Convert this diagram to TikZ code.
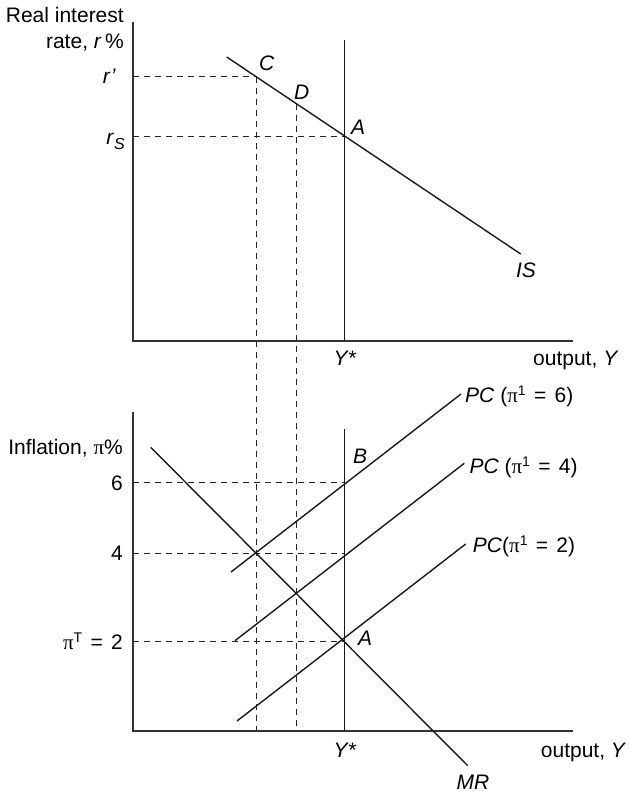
\documentclass[tikz,border=0pt]{standalone}
\usepackage{fontspec}
\setmainfont{Liberation Sans}
\newfontfamily\serifpi{Liberation Serif}
\usetikzlibrary{calc}
\newcommand\piup{{\serifpi π}}
\newcommand\supr[1]{\raisebox{7pt}{\fontsize{14}{14}\selectfont #1}}
\newcommand\eqs{\hspace{2.5pt} = \hspace{2.5pt}}
\begin{document}
\begin{tikzpicture}[x=1pt,y=-1pt,
  font=\fontsize{21}{26}\selectfont,
  axis/.style={line width=1.8pt, black!80},
  curve/.style={line width=1.4pt, black!90},
  guide/.style={line width=1.3pt, dash pattern=on 6pt off 5pt, black!85},
  lbl/.style={inner sep=0pt, text height=15pt, text depth=0pt}]
\useasboundingbox (0,0) rectangle (629,792);

% ---------- top panel ----------
\coordinate (T1) at (133,22);
\coordinate (O1) at (133,341);
\coordinate (E1) at (573,341);
\coordinate (V1t) at (344.5,40);
\coordinate (V1b) at (344.5,341);
\coordinate (IS1) at (226.7,57);
\coordinate (IS2) at (520.7,254);
\coordinate (C) at (256.5,76.5);
\coordinate (D) at (296.5,103.5);
\coordinate (A1) at (344.5,136.5);

% ---------- bottom panel ----------
\coordinate (T2) at (133,412);
\coordinate (O2) at (133,731);
\coordinate (E2) at (573,731);
\coordinate (V2t) at (344.5,429);
\coordinate (V2b) at (344.5,731);
\coordinate (MR1) at (150.7,447.3);
\coordinate (MR2) at (467.7,765.7);
\coordinate (P6a) at (231,572);
\coordinate (P6b) at (461,394);
\coordinate (P4a) at (235,640.7);
\coordinate (P4b) at (464.3,463.3);
\coordinate (P2a) at (237,721);
\coordinate (P2b) at (465.7,544);
\coordinate (B) at (344.5,482.5);
\coordinate (F4) at (344.5,553.5);
\coordinate (A2) at (344.5,641.5);

% guides
\draw[guide] (O1 |- C) -- (C);
\draw[guide] (C) -- (C |- O2);
\draw[guide] (D) -- (D |- O2);
\draw[guide] (O1 |- A1) -- (A1);
\draw[guide] (O2 |- B) -- (B);
\draw[guide] (O2 |- F4) -- (F4);
\draw[guide] (O2 |- A2) -- (A2);

% axes
\draw[axis] (T1) -- (O1) -- (E1);
\draw[axis] (T2) -- (O2) -- (E2);

% curves
\draw[curve] (V1t) -- (V1b);
\draw[curve] (IS1) -- (IS2);
\draw[curve] (V2t) -- (V2b);
\draw[curve] (MR1) -- (MR2);
\draw[curve] (P6a) -- (P6b);
\draw[curve] (P4a) -- (P4b);
\draw[curve] (P2a) -- (P2b);

% labels top
\node[inner sep=0pt, align=right, anchor=east] (ylab1) at (124,29) {Real interest\\rate, \textit{r}\,\%};
\node[lbl, anchor=east] (rp) at (116,76) {\textit{r\kern1pt'}};
\node[lbl, anchor=east] (rs) at (125,137) {\textit{r}\raisebox{-5pt}{\fontsize{16}{16}\selectfont\itshape S}};
\node[lbl] (Clab) at (266.7,63.3) {\textit{C}};
\node[lbl] (Dlab) at (301.7,91.7) {\textit{D}};
\node[lbl] (A1lab) at (358,127) {\textit{A}};
\node[lbl] (ISlab) at (526,270) {\textit{IS}};
\node[lbl] (Ys1) at (345,358) {\textit{Y*}};
\node[lbl, anchor=west] (out1) at (533,358) {output, \textit{Y}};

% labels bottom
\node[lbl, anchor=east] (ylab2) at (123,447) {Inflation, \piup\%};
\node[lbl, anchor=east] (six) at (123,482.7) {6};
\node[lbl, anchor=east] (four) at (123,553.3) {4};
\node[lbl, anchor=east] (two) at (123,641.7) {\piup\supr{T}\eqs 2};
\node[lbl] (Blab) at (360,456) {\textit{B}};
\node[lbl] (A2lab) at (365,638) {\textit{A}};
\node[lbl, anchor=west] (pc6) at (465,395) {\textit{PC} (\piup\supr{1}\eqs 6)};
\node[lbl, anchor=west] (pc4) at (469.3,466) {\textit{PC} (\piup\supr{1}\eqs 4)};
\node[lbl, anchor=west] (pc2) at (472.7,545) {\textit{PC}(\piup\supr{1}\eqs 2)};
\node[lbl] (Ys2) at (345,750) {\textit{Y*}};
\node[lbl, anchor=west] (out2) at (540.7,750) {output, \textit{Y}};
\node[lbl] (MRlab) at (473,781.7) {\textit{MR}};
\end{tikzpicture}
\end{document}
